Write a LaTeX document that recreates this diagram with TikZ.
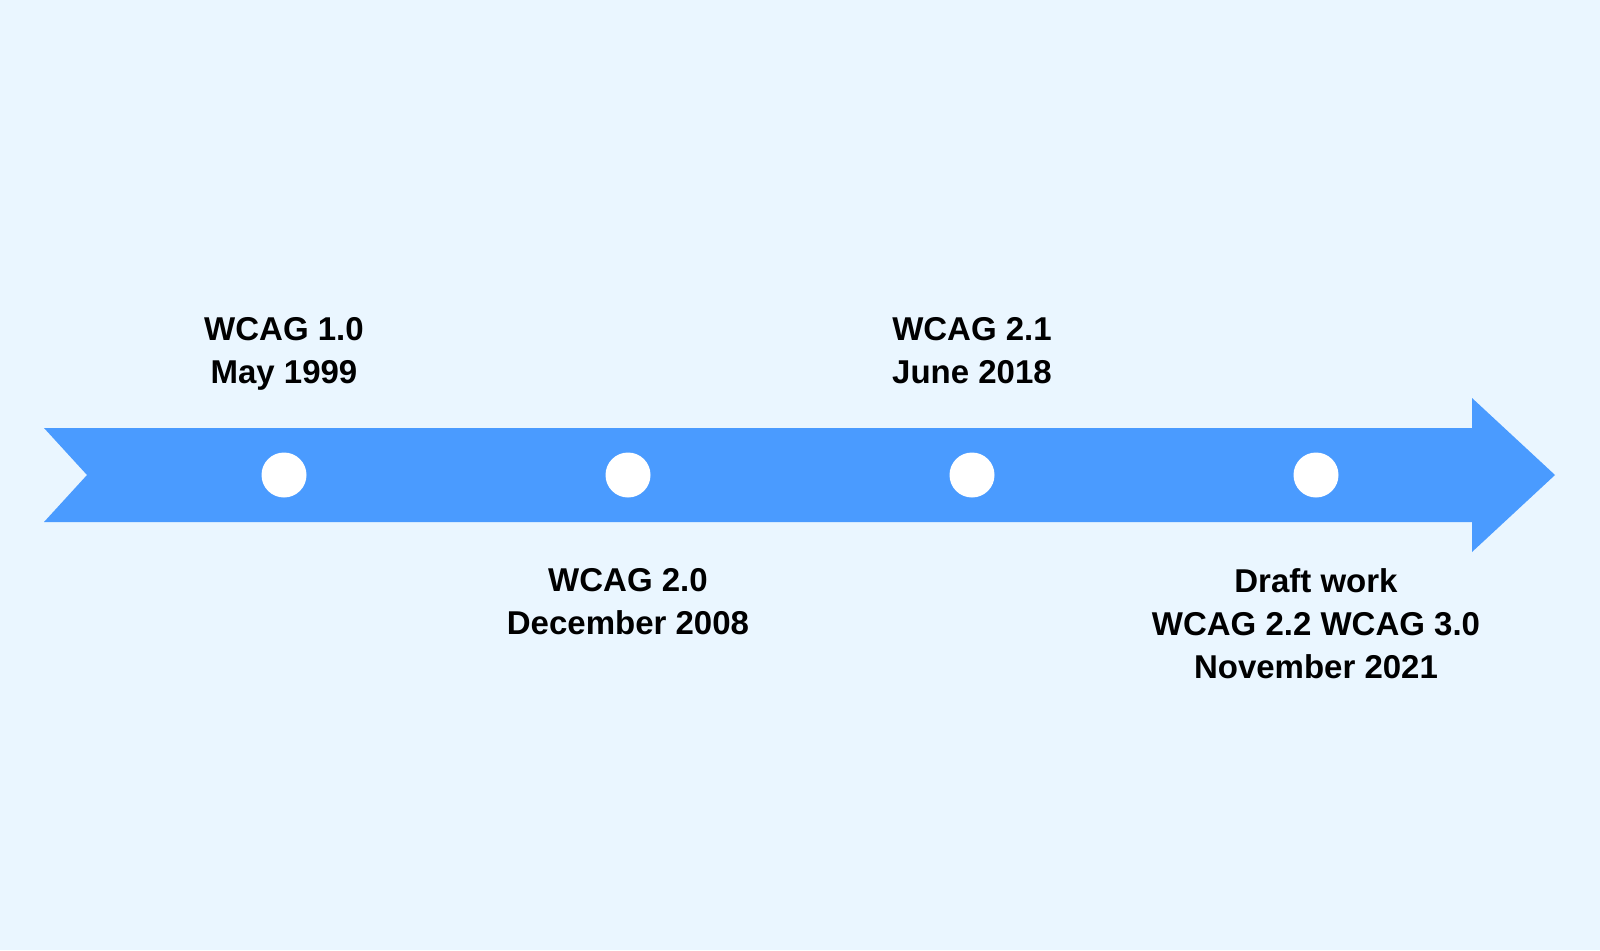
\documentclass[tikz,border=0pt]{standalone}
\usepackage{fontspec}
\setmainfont{Liberation Sans}
\definecolor{bgblue}{HTML}{EAF6FF}
\definecolor{barblue}{HTML}{4A9BFF}
\begin{document}
\begin{tikzpicture}[x=1pt,y=-1pt,
  dot/.style={circle,fill=white,inner sep=0pt,minimum size=45pt},
  lbl/.style={anchor=north,inner sep=0pt,align=center,font=\fontsize{33}{43}\selectfont\bfseries}]
\fill[bgblue] (0,0) rectangle (1600,950);
\useasboundingbox (0,0) rectangle (1600,950);
% timeline bar
\fill[barblue] (44,428) -- (1472,428) -- (1472,398) -- (1555,475) -- (1472,552)
  -- (1472,522) -- (44,522) -- (87,475) -- cycle;
\node[dot] (d1) at (284,475) {};
\node[dot] (d2) at (628,475) {};
\node[dot] (d3) at (972,475) {};
\node[dot] (d4) at (1316,475) {};
\node[lbl] (t1) at (284,317) {WCAG 1.0\\May 1999};
\node[lbl] (t2) at (628,568) {WCAG 2.0\\December 2008};
\node[lbl] (t3) at (972,317) {WCAG 2.1\\June 2018};
\node[lbl] (t4) at (1316,568) {Draft work\\WCAG 2.2 WCAG 3.0\\November 2021};
\end{tikzpicture}
\end{document}
